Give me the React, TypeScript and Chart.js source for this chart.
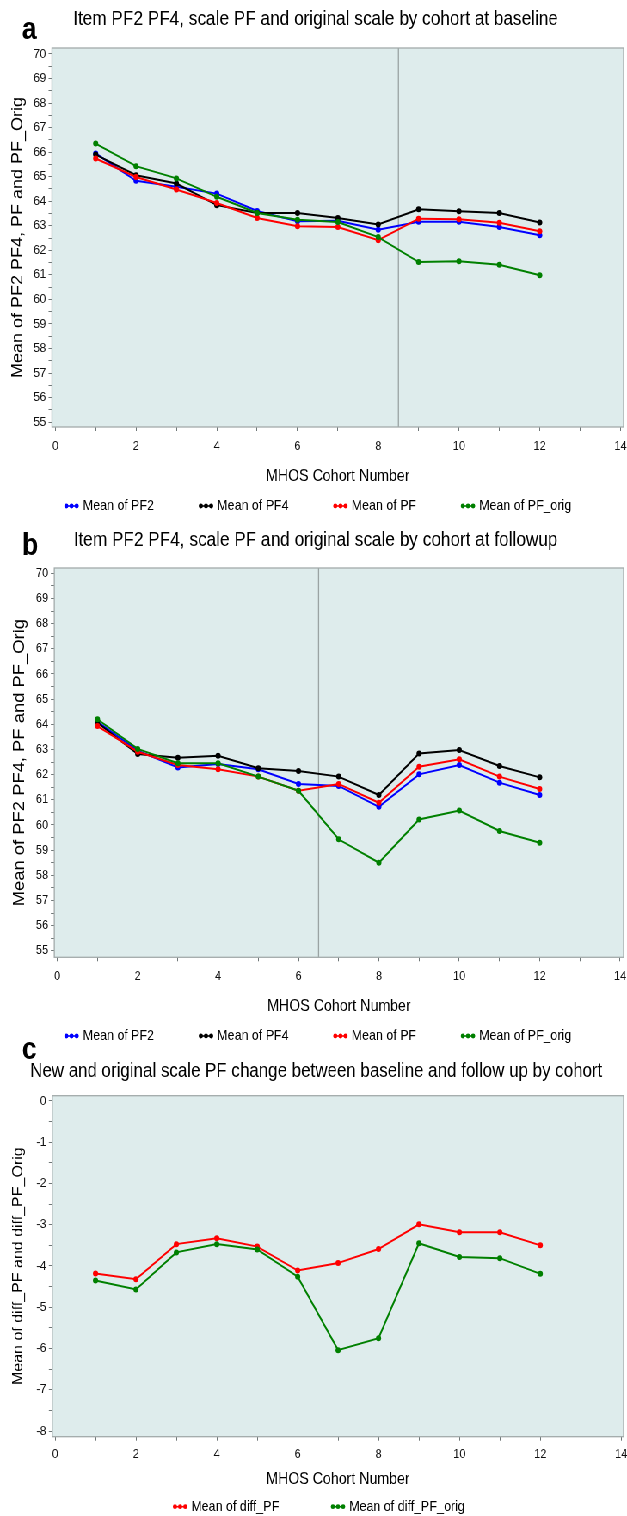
import React, { useEffect, useRef } from 'react';
import { Chart, registerables } from 'chart.js';

Chart.register(...registerables);

// ---------------- data ----------------
const COHORTS = [1, 2, 3, 4, 5, 6, 7, 8, 9, 10, 11, 12];

// panel a: baseline
const BASE_PF2 = [65.95, 64.83, 64.59, 64.31, 63.6, 63.18, 63.2, 62.84, 63.16, 63.16, 62.95, 62.61];
const BASE_PF4 = [65.9, 65.06, 64.72, 63.84, 63.52, 63.52, 63.32, 63.05, 63.67, 63.59, 63.52, 63.13];
const BASE_PF = [65.74, 64.99, 64.48, 63.93, 63.32, 62.98, 62.95, 62.41, 63.29, 63.27, 63.12, 62.78];
const BASE_PF_ORIG = [66.35, 65.43, 64.93, 64.18, 63.52, 63.25, 63.15, 62.54, 61.52, 61.55, 61.41, 60.98];

// panel b: follow-up
const FU_PF2 = [64.1, 62.95, 62.28, 62.42, 62.21, 61.63, 61.55, 60.72, 62.01, 62.38, 61.68, 61.19];
const FU_PF4 = [64.06, 62.82, 62.67, 62.75, 62.25, 62.14, 61.92, 61.19, 62.84, 62.98, 62.34, 61.89];
const FU_PF = [63.93, 62.91, 62.38, 62.21, 61.92, 61.36, 61.63, 60.88, 62.31, 62.61, 61.92, 61.43];
const FU_PF_ORIG = [64.2, 63.02, 62.45, 62.45, 61.92, 61.36, 59.43, 58.5, 60.22, 60.57, 59.76, 59.29];

// panel c: change
const DIFF_PF = [-4.18, -4.32, -3.47, -3.33, -3.53, -4.11, -3.93, -3.59, -2.99, -3.18, -3.18, -3.5];
const DIFF_PF_ORIG = [-4.35, -4.57, -3.67, -3.47, -3.6, -4.26, -6.04, -5.75, -3.45, -3.78, -3.81, -4.19];

// ticks
const X_TICKS = [0, 1, 2, 3, 4, 5, 6, 7, 8, 9, 10, 11, 12, 13, 14];
const X_TICK_LABELS = [0, 2, 4, 6, 8, 10, 12, 14];
const Y_TICKS_AB = [55, 56, 57, 58, 59, 60, 61, 62, 63, 64, 65, 66, 67, 68, 69, 70];
const Y_TICKS_C = [-8, -7, -6, -5, -4, -3, -2, -1, 0];

// reference lines (cohort split)
const REF_A = 8.5;
const REF_B = 6.5;

// ---------------- styles ----------------
const PAGE_W = 627;
const W = 729; // internal canvas width (rendered squeezed horizontally)
const S = PAGE_W / W;
const PAD_L = 8;
const FONT = '"Liberation Sans", Arial, Helvetica, sans-serif';
const PLOT_BG = '#deecec';
const FRAME_COLOR = '#a3abab';
const REF_COLOR = '#9aa3a3';
const TICK_COLOR = '#6f7777';
const TICK_TEXT = '#111111';
const TICK_SIZE = 13;
const X_TITLE_SIZE = 16.5;
const LEGEND_SIZE = 14.5;
const MARK_W = 16;
const TEXT_GAP = 5;

const BLUE = '#0000ff';
const BLACK = '#000000';
const RED = '#ff0000';
const GREEN = '#008000';

type Series = { label: string; legend: string; color: string; values: number[]; order: number };
type Spec = {
  top: number; height: number;
  frameLeft: number; frameRight: number; frameTop: number; frameBottom: number;
  xMin: number; xMax: number; yMin: number; yMax: number;
  yTicks: number[];
  title: string; titleY: number; titleSize: number;
  letter: string; letterX: number; letterBaseline: number;
  yTitle: string; yTitleX: number; yTitleSize: number;
  xTitle: string; xLabelY: number; xTitleY: number;
  legendY: number; legendGap: number; legendCenter: number;
  refX: number | null;
  series: Series[];
};

const SPECS: Spec[] = [
  {
    top: 0, height: 522,
    frameLeft: 52, frameRight: 624.3, frameTop: 48, frameBottom: 427,
    xMin: -0.082, xMax: 14.077, yMin: 54.8, yMax: 70.244,
    yTicks: Y_TICKS_AB,
    title: 'Item PF2 PF4, scale PF and original scale by cohort at baseline', titleY: 19, titleSize: 20,
    letter: 'a', letterX: 22, letterBaseline: 39,
    yTitle: 'Mean of PF2 PF4, PF and PF_Orig', yTitleX: 18.4, yTitleSize: 18,
    xTitle: 'MHOS Cohort Number', xLabelY: 446, xTitleY: 476,
    legendY: 506, legendGap: 45, legendCenter: 318,
    refX: REF_A,
    series: [
      { label: 'PF2', legend: 'Mean of PF2', color: BLUE, values: BASE_PF2, order: 3 },
      { label: 'PF4', legend: 'Mean of PF4', color: BLACK, values: BASE_PF4, order: 2 },
      { label: 'PF', legend: 'Mean of PF', color: RED, values: BASE_PF, order: 1 },
      { label: 'PF_orig', legend: 'Mean of PF_orig', color: GREEN, values: BASE_PF_ORIG, order: 0 },
    ],
  },
  {
    top: 522, height: 522,
    frameLeft: 54.3, frameRight: 624.3, frameTop: 46, frameBottom: 435.3,
    xMin: -0.075, xMax: 14.087, yMin: 54.74, yMax: 70.21,
    yTicks: Y_TICKS_AB,
    title: 'Item PF2 PF4, scale PF and original scale by cohort at followup', titleY: 18, titleSize: 20,
    letter: 'b', letterX: 22, letterBaseline: 33,
    yTitle: 'Mean of PF2 PF4, PF and PF_Orig', yTitleX: 19.5, yTitleSize: 18.4,
    xTitle: 'MHOS Cohort Number', xLabelY: 454, xTitleY: 484,
    legendY: 514, legendGap: 45, legendCenter: 318,
    refX: REF_B,
    series: [
      { label: 'PF2', legend: 'Mean of PF2', color: BLUE, values: FU_PF2, order: 3 },
      { label: 'PF4', legend: 'Mean of PF4', color: BLACK, values: FU_PF4, order: 2 },
      { label: 'PF', legend: 'Mean of PF', color: RED, values: FU_PF, order: 1 },
      { label: 'PF_orig', legend: 'Mean of PF_orig', color: GREEN, values: FU_PF_ORIG, order: 0 },
    ],
  },
  {
    top: 1040, height: 476,
    frameLeft: 52.3, frameRight: 625.5, frameTop: 55.7, frameBottom: 396.7,
    xMin: -0.069, xMax: 14.06, yMin: -8.138, yMax: 0.128,
    yTicks: Y_TICKS_C,
    title: 'New and original scale PF change between baseline and follow up by cohort', titleY: 32, titleSize: 19.7,
    letter: 'c', letterX: 22, letterBaseline: 19,
    yTitle: 'Mean of diff_PF and diff_PF_Orig', yTitleX: 19, yTitleSize: 16,
    xTitle: 'MHOS Cohort Number', xLabelY: 414.2, xTitleY: 439,
    legendY: 466.7, legendGap: 52, legendCenter: 319,
    refX: null,
    series: [
      { label: 'diff_PF', legend: 'Mean of diff_PF', color: RED, values: DIFF_PF, order: 1 },
      { label: 'diff_PF_orig', legend: 'Mean of diff_PF_orig', color: GREEN, values: DIFF_PF_ORIG, order: 0 },
    ],
  },
];

function drawMarker(ctx: CanvasRenderingContext2D, x: number, y: number, color: string) {
  ctx.save();
  ctx.strokeStyle = color;
  ctx.fillStyle = color;
  ctx.lineWidth = 1.6;
  ctx.beginPath();
  ctx.moveTo(x, y);
  ctx.lineTo(x + MARK_W, y);
  ctx.stroke();
  [2, MARK_W / 2, MARK_W - 2].forEach((dx) => {
    ctx.beginPath();
    ctx.arc(x + dx, y, 2.4, 0, Math.PI * 2);
    ctx.fill();
  });
  ctx.restore();
}

function makeDecor(spec: Spec) {
  return {
    id: 'panelDecor',
    beforeDraw(chart: any) {
      const { ctx, chartArea: a } = chart;
      ctx.save();
      ctx.fillStyle = PLOT_BG;
      ctx.fillRect(a.left, a.top, a.right - a.left, a.bottom - a.top);
      ctx.restore();
    },
    beforeDatasetsDraw(chart: any) {
      const { ctx, chartArea: a, scales } = chart;
      ctx.save();
      if (spec.refX !== null) {
        const px = scales.x.getPixelForValue(spec.refX);
        ctx.strokeStyle = REF_COLOR;
        ctx.lineWidth = 1.3;
        ctx.beginPath();
        ctx.moveTo(px, a.top);
        ctx.lineTo(px, a.bottom);
        ctx.stroke();
      }
      ctx.strokeStyle = FRAME_COLOR;
      ctx.lineWidth = 1.3;
      ctx.strokeRect(a.left, a.top, a.right - a.left, a.bottom - a.top);
      ctx.restore();
    },
    afterDraw(chart: any) {
      const { ctx } = chart;
      ctx.save();
      ctx.fillStyle = '#000';
      ctx.textAlign = 'left';
      ctx.textBaseline = 'alphabetic';
      ctx.font = `bold 31px ${FONT}`;
      ctx.fillText(spec.letter, spec.letterX / S, spec.letterBaseline);

      ctx.font = `${LEGEND_SIZE}px ${FONT}`;
      ctx.textBaseline = 'middle';
      const widths = spec.series.map((s) => MARK_W + TEXT_GAP + ctx.measureText(s.legend).width);
      const gap = spec.legendGap / S;
      const total = widths.reduce((p, c) => p + c, 0) + gap * (widths.length - 1);
      let x = spec.legendCenter / S - total / 2;
      spec.series.forEach((s, i) => {
        drawMarker(ctx, x, spec.legendY, s.color);
        ctx.fillStyle = '#000';
        ctx.fillText(s.legend, x + MARK_W + TEXT_GAP, spec.legendY);
        x += widths[i] + gap;
      });
      ctx.restore();
    },
  };
}

function buildConfig(spec: Spec): any {
  const tLine = spec.titleSize * 1.2;
  const xTitleLine = X_TITLE_SIZE * 1.2;
  const xAxisH = spec.xTitleY - spec.frameBottom + xTitleLine / 2;
  const yTitleLine = spec.yTitleSize * 1.2;
  const left = spec.frameLeft / S;
  const right = spec.frameRight / S;
  const yAll: number[] = [];
  spec.yTicks.forEach((v, i) => {
    yAll.push(v);
    if (i < spec.yTicks.length - 1) yAll.push((v + spec.yTicks[i + 1]) / 2);
  });
  const tickFont = { family: FONT, size: TICK_SIZE, lineHeight: 1.2 };

  return {
    type: 'line',
    data: {
      datasets: spec.series.map((s) => ({
        label: s.legend,
        data: COHORTS.map((c, i) => ({ x: c, y: s.values[i] })),
        borderColor: s.color,
        backgroundColor: s.color,
        pointBackgroundColor: s.color,
        pointBorderColor: s.color,
        pointRadius: 3,
        pointBorderWidth: 0,
        borderWidth: 2,
        tension: 0,
        fill: false,
        order: s.order,
      })),
    },
    options: {
      responsive: false,
      animation: false,
      events: [],
      layout: {
        padding: {
          left: PAD_L,
          right: W - right,
          top: 0,
          bottom: spec.height - spec.frameBottom - xAxisH,
        },
      },
      plugins: {
        legend: { display: false },
        tooltip: { enabled: false },
        title: {
          display: true,
          text: spec.title,
          color: '#000',
          font: { family: FONT, size: spec.titleSize, weight: 'normal', lineHeight: 1.2 },
          padding: { top: spec.titleY - tLine / 2, bottom: spec.frameTop - spec.titleY - tLine / 2 },
        },
      },
      scales: {
        x: {
          type: 'linear',
          position: 'bottom',
          bounds: 'data',
          min: spec.xMin,
          max: spec.xMax,
          afterBuildTicks: (sc: any) => {
            sc.ticks = X_TICKS.map((v) => ({ value: v }));
          },
          afterFit: (sc: any) => {
            sc.height = xAxisH;
            sc.paddingLeft = 0;
            sc.paddingRight = 0;
          },
          grid: { display: true, drawOnChartArea: false, drawTicks: true, tickLength: 4, tickColor: TICK_COLOR, tickWidth: 1 },
          border: { display: false },
          ticks: {
            autoSkip: false,
            maxRotation: 0,
            minRotation: 0,
            padding: spec.xLabelY - spec.frameBottom - 4 - (TICK_SIZE * 1.2) / 2,
            color: TICK_TEXT,
            font: tickFont,
            callback: (v: number) => (X_TICK_LABELS.includes(v) ? String(v) : ''),
          },
          title: {
            display: true,
            text: spec.xTitle,
            color: '#000',
            font: { family: FONT, size: X_TITLE_SIZE, lineHeight: 1.2 },
            padding: { top: 0, bottom: 0 },
          },
        },
        y: {
          type: 'linear',
          position: 'left',
          bounds: 'data',
          min: spec.yMin,
          max: spec.yMax,
          afterBuildTicks: (sc: any) => {
            sc.ticks = yAll.map((v) => ({ value: v }));
          },
          afterFit: (sc: any) => {
            sc.width = left - PAD_L;
          },
          grid: { display: true, drawOnChartArea: false, drawTicks: true, tickLength: 4, tickColor: TICK_COLOR, tickWidth: 1 },
          border: { display: false },
          ticks: {
            autoSkip: false,
            padding: 3,
            color: TICK_TEXT,
            font: tickFont,
            callback: (v: number) => (spec.yTicks.includes(v) ? String(v) : ''),
          },
          title: {
            display: true,
            text: spec.yTitle,
            color: '#000',
            font: { family: FONT, size: spec.yTitleSize, lineHeight: 1.2 },
            padding: { top: spec.yTitleX / S - PAD_L - yTitleLine / 2, bottom: 0 },
          },
        },
      },
    },
    plugins: [makeDecor(spec)],
  };
}

export default function App() {
  const r0 = useRef<HTMLCanvasElement | null>(null);
  const r1 = useRef<HTMLCanvasElement | null>(null);
  const r2 = useRef<HTMLCanvasElement | null>(null);
  const refs = [r0, r1, r2];

  useEffect(() => {
    const charts = SPECS.map((spec, i) => new Chart(refs[i].current as HTMLCanvasElement, buildConfig(spec)));
    return () => charts.forEach((c) => c.destroy());
  }, []);

  return (
    <div style={{ position: 'absolute', left: 0, top: 0, width: PAGE_W, height: 1516, overflow: 'hidden', background: '#fff' }}>
      <div
        style={{
          position: 'absolute',
          left: 0,
          top: 0,
          width: W,
          height: 1516,
          transform: `scaleX(${S})`,
          transformOrigin: '0 0',
        }}
      >
        {SPECS.map((spec, i) => (
          <canvas
            key={i}
            ref={refs[i]}
            width={W}
            height={spec.height}
            style={{ position: 'absolute', left: 0, top: spec.top, width: W, height: spec.height }}
          />
        ))}
      </div>
    </div>
  );
}
